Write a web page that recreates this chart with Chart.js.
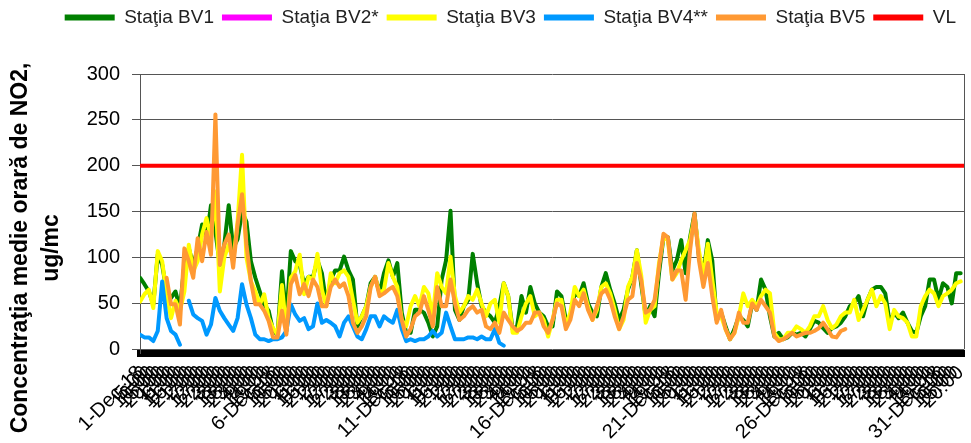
<!DOCTYPE html>
<html>
<head>
<meta charset="utf-8">
<script src="https://cdn.jsdelivr.net/npm/chart.js@4.4.0/dist/chart.umd.min.js"></script>
<style>
  html, body { margin: 0; padding: 0; background: #fff; }
  #wrap { width: 971px; height: 443px; }
</style>
</head>
<body>
<div id="wrap"><canvas id="myChart"></canvas></div>
<script>
// hourly NO2 means, December 2018, read every 4 hours off the original chart
const stepHours = 4;
const lastHour = 743;
const tickEveryHours = 5;
const monthTag = 'Dec-18';

const seriesNames = ['Staţia BV1', 'Staţia BV2*', 'Staţia BV3', 'Staţia BV4**', 'Staţia BV5', 'VL'];
const seriesColors = ['#008000', '#FF00FF', '#FFFF00', '#0099FF', '#FF9933', '#FF0000'];

const bv1 = [
  78,71,63,49,103,92,63,56,63,45, 92,110,92,110,136,121,157,128,92,114, 157,110,120,150,139,96,78,63,49,42, 20,16,85,34,107,96,92,71,
  79,79,97,83,50,76,86,86,101,86, 76,25,36,47,72,79,61,83,97,79, 94,40,18,18,43,43,40,29,14,25, 76,97,151,43,32,47,54,104,
  72,47,40,36,29,47,72,58,22,25, 58,40,68,50,40,36,25,25,63,58, 32,36,61,58,72,50,40,36,68,83, 65,50,32,43,65,79,108,70,
  36,47,36,83,122,122,86,97,119,83, 122,148,101,83,119,97,32,40,25,11, 22,36,32,25,50,43,76,65,36,14, 18,11,13,18,16,18,14,
  22,31,29,23,18,23,25,29,36,47, 50,58,36,54,65,68,68,61,29,40, 34,40,29,20,18,36,47,76,76,54, 72,68,50,83,83
];
const bv2 = [];
const bv3 = [
  52,60,65,45,107,96,60,34,53,42, 63,114,85,96,125,143,121,172,63,100, 114,96,139,212,100,74,63,49,60,34, 23,16,70,20,78,85,103,60,
  79,76,104,65,47,83,72,83,86,79, 54,29,36,47,68,79,61,65,94,79, 68,32,25,47,58,47,68,61,36,83, 68,61,101,58,40,47,58,54,
  65,50,36,50,54,29,72,58,18,18, 36,50,58,36,40,32,14,32,54,54, 25,40,68,58,65,47,32,43,68,72, 61,43,22,32,68,79,108,80,
  29,43,47,94,122,119,76,83,97,108, 119,144,108,79,115,76,40,36,22,11, 18,36,61,47,54,47,58,65,61,18, 11,11,18,18,25,22,18,
  25,36,36,47,32,23,27,36,40,40, 54,32,43,54,65,47,58,50,22,43, 36,34,29,14,14,47,58,65,61,47, 58,61,65,72,74
];
const bv4 = [
  16,13,13,9,20,74,34,20,16,5, null,53,38,34,31,16,27,56,42,34, 27,20,34,71,49,34,16,11,11,9, 11,11,13,20,49,38,31,34,
  22,25,50,29,32,29,25,14,29,36, 25,14,11,22,36,36,25,36,32,29, 43,22,9,11,9,11,11,14,20,14, 18,40,25,11,11,11,13,13,
  11,14,11,11,22,7,4
];
const bv5 = [
  null,null,null,null,null,null,78,49,49,27, 110,96,78,121,96,128,103,256,92,114, 125,89,136,169,114,74,49,49,42,31, 13,13,42,16,71,81,60,71,
  58,76,68,47,47,68,76,68,72,58, 29,18,25,36,68,79,58,61,65,68, 58,32,14,22,36,40,58,43,25,68, 47,47,76,50,32,36,43,47,
  40,43,25,22,29,18,40,32,25,20, 23,29,29,40,40,25,18,32,50,47, 22,32,54,47,61,43,32,47,61,65, 54,36,22,36,54,58,94,75,
  40,43,54,90,126,122,76,86,86,54, 108,148,97,68,94,58,29,43,22,11, 18,40,29,29,50,43,54,47,40,14, 9,11,14,18,14,16,18,
  18,20,23,29,22,14,13,20,22
];
const vlLimit = 200;
const yTicks = [0, 50, 100, 150, 200, 250, 300];
const yTitleLines = ['Concentraţia medie orară de NO2,', 'ug/mc'];

const FONT = "'Liberation Sans', Arial, sans-serif";

function toPoints(values) {
  return values.map((v, i) => ({ x: i * stepHours, y: v }));
}

function hourLabel(h) {
  const day = Math.floor(h / 24) + 1;
  const hr = h % 24;
  return hr === 0 ? day + '-' + monthTag : hr + ':00';
}

const allSeries = [bv1, bv2, bv3, bv4, bv5];
const datasets = allSeries.map((vals, k) => ({
  label: seriesNames[k],
  data: toPoints(vals),
  borderColor: seriesColors[k],
  backgroundColor: seriesColors[k],
  borderWidth: 4,
  pointRadius: 0,
  tension: 0,
  fill: false,
  spanGaps: false,
  borderJoinStyle: 'round',
  borderCapStyle: 'round',
  order: 5 - k
}));
datasets.push({
  label: seriesNames[5],
  data: [{ x: 0, y: vlLimit }, { x: lastHour, y: vlLimit }],
  borderColor: seriesColors[5],
  backgroundColor: seriesColors[5],
  borderWidth: 4,
  pointRadius: 0,
  fill: false,
  order: 0
});

// extra room under the legend, title drawn by hand, right frame edge
const extras = {
  id: 'extras',
  beforeInit(chart) {
    const fit = chart.legend.fit;
    chart.legend.fit = function () {
      fit.bind(chart.legend)();
      this.height += 37;
    };
  },
  afterDraw(chart) {
    const c = chart.ctx;
    const a = chart.chartArea;
    c.save();
    c.strokeStyle = '#555';
    c.lineWidth = 1;
    c.beginPath();
    c.moveTo(a.right + 0.5, a.top);
    c.lineTo(a.right + 0.5, chart.scales.y.getPixelForValue(0));
    c.stroke();
    c.fillStyle = '#000';
    c.font = 'bold 23px ' + FONT;
    c.textAlign = 'center';
    c.textBaseline = 'middle';
    c.translate(0, 248);
    c.rotate(-Math.PI / 2);
    c.fillText(yTitleLines[0], 0, 21);
    c.fillText(yTitleLines[1], 0, 52);
    c.restore();
  }
};

const ctx = document.getElementById('myChart').getContext('2d');
const myChart = new Chart(ctx, {
  type: 'line',
  data: { datasets: datasets },
  options: {
    responsive: true,
    maintainAspectRatio: false,
    animation: false,
    events: [],
    layout: { padding: { left: 0, right: 7, top: 0, bottom: 0 } },
    plugins: {
      tooltip: { enabled: false },
      legend: {
        position: 'top',
        align: 'end',
        labels: {
          font: { family: FONT, size: 19 },
          color: '#222',
          usePointStyle: true,
          pointStyle: 'line',
          pointStyleWidth: 50,
          boxHeight: 19,
          padding: 8,
          sort: (a, b) => a.datasetIndex - b.datasetIndex,
          generateLabels(chart) {
            const items = Chart.defaults.plugins.legend.labels.generateLabels(chart);
            items.forEach(it => { it.lineWidth = 6; });
            return items;
          }
        }
      }
    },
    scales: {
      x: {
        type: 'linear',
        min: 0,
        max: lastHour,
        afterBuildTicks(scale) {
          const t = [];
          for (let h = 0; h <= lastHour; h += tickEveryHours) t.push({ value: h });
          scale.ticks = t;
        },
        afterFit(scale) {
          scale.height = 90;
          scale.paddingRight = 0;
        },
        ticks: {
          autoSkip: false,
          minRotation: 45,
          maxRotation: 45,
          padding: 8,
          color: '#000',
          font: { family: FONT, size: 20 },
          callback: (value) => hourLabel(value)
        },
        grid: { display: false, drawTicks: false },
        border: { display: true, color: '#000', width: 7 }
      },
      y: {
        min: -4,
        max: 300,
        afterBuildTicks(scale) {
          scale.ticks = yTicks.map(v => ({ value: v }));
        },
        afterFit(scale) { scale.width = 140; },
        ticks: {
          padding: 12,
          color: '#000',
          font: { family: FONT, size: 20 }
        },
        grid: { color: '#555', lineWidth: 1, tickLength: 8, tickColor: '#555' },
        border: { display: true, color: '#555', width: 1 }
      }
    }
  },
  plugins: [extras]
});
</script>
</body>
</html>
